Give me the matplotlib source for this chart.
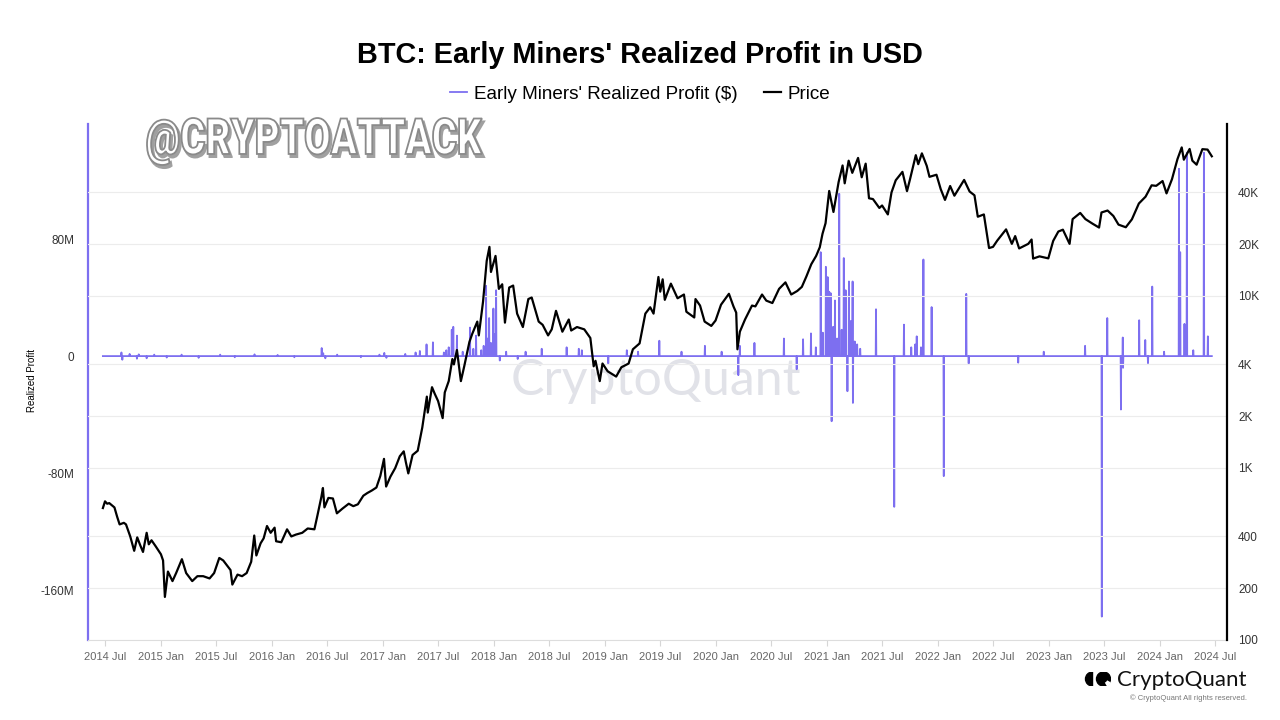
import matplotlib
matplotlib.use("Agg")
import matplotlib.pyplot as plt
from matplotlib.textpath import TextPath
from matplotlib.patches import PathPatch, Wedge, Circle
from matplotlib.font_manager import FontProperties
from matplotlib.transforms import Affine2D
import numpy as np
import pandas as pd

W, H = 1280, 720
PURPLE = "#7d6ff0"

# BTC price (USD)
price_dates = [
    "2014-06-24", "2014-07-01", "2014-07-08", "2014-07-15", "2014-08-01", "2014-08-10", "2014-08-18",
    "2014-09-01", "2014-09-08", "2014-09-22", "2014-10-05", "2014-10-15", "2014-10-25", "2014-11-03",
    "2014-11-15", "2014-11-22", "2014-12-01", "2014-12-15", "2015-01-01", "2015-01-08", "2015-01-14",
    "2015-01-24", "2015-02-08", "2015-02-20", "2015-03-11", "2015-03-25", "2015-04-14", "2015-05-01",
    "2015-05-20", "2015-06-10", "2015-06-25", "2015-07-12", "2015-07-25", "2015-08-18", "2015-08-24",
    "2015-09-10", "2015-09-25", "2015-10-10", "2015-10-25", "2015-11-04", "2015-11-11", "2015-11-25",
    "2015-12-05", "2015-12-16", "2015-12-28", "2016-01-10", "2016-01-15", "2016-02-01", "2016-02-20",
    "2016-03-05", "2016-03-20", "2016-04-10", "2016-04-28", "2016-05-20", "2016-05-30", "2016-06-12",
    "2016-06-17", "2016-06-22", "2016-07-05", "2016-07-20", "2016-08-02", "2016-08-20", "2016-09-10",
    "2016-09-25", "2016-10-10", "2016-10-28", "2016-11-10", "2016-11-25", "2016-12-10", "2016-12-23",
    "2017-01-04", "2017-01-11", "2017-01-25", "2017-02-10", "2017-02-25", "2017-03-10", "2017-03-17",
    "2017-03-25", "2017-04-08", "2017-04-25", "2017-05-10", "2017-05-25", "2017-05-28", "2017-06-11",
    "2017-06-20", "2017-07-01", "2017-07-16", "2017-07-23", "2017-08-05", "2017-08-17", "2017-08-22",
    "2017-09-01", "2017-09-14", "2017-09-25", "2017-10-12", "2017-10-21", "2017-11-07", "2017-11-12",
    "2017-11-26", "2017-12-08", "2017-12-17", "2017-12-22", "2018-01-06", "2018-01-17", "2018-01-28",
    "2018-02-06", "2018-02-20", "2018-03-05", "2018-03-18", "2018-04-06", "2018-04-24", "2018-05-05",
    "2018-05-28", "2018-06-10", "2018-06-28", "2018-07-10", "2018-07-24", "2018-08-14", "2018-09-04",
    "2018-09-12", "2018-10-01", "2018-10-25", "2018-11-14", "2018-11-25", "2018-12-01", "2018-12-15",
    "2018-12-24", "2019-01-10", "2019-02-07", "2019-02-24", "2019-03-20", "2019-04-03", "2019-04-25",
    "2019-05-14", "2019-05-30", "2019-06-10", "2019-06-26", "2019-07-02", "2019-07-10", "2019-07-17",
    "2019-08-06", "2019-08-28", "2019-09-18", "2019-09-26", "2019-10-22", "2019-10-26", "2019-11-10",
    "2019-11-25", "2019-12-17", "2019-12-31", "2020-01-18", "2020-02-13", "2020-02-28", "2020-03-08",
    "2020-03-12", "2020-03-20", "2020-04-06", "2020-04-29", "2020-05-10", "2020-06-01", "2020-06-15",
    "2020-07-05", "2020-07-27", "2020-08-17", "2020-09-05", "2020-09-25", "2020-10-10", "2020-10-25",
    "2020-11-10", "2020-11-26", "2020-12-08", "2020-12-17", "2020-12-27", "2021-01-08", "2021-01-22",
    "2021-02-08", "2021-02-21", "2021-02-28", "2021-03-13", "2021-03-25", "2021-04-13", "2021-04-25",
    "2021-05-08", "2021-05-19", "2021-06-01", "2021-06-22", "2021-07-01", "2021-07-20", "2021-08-01",
    "2021-08-15", "2021-09-06", "2021-09-21", "2021-10-01", "2021-10-20", "2021-10-28", "2021-11-09",
    "2021-11-25", "2021-12-04", "2021-12-27", "2022-01-10", "2022-01-24", "2022-02-10", "2022-02-24",
    "2022-03-28", "2022-04-15", "2022-05-01", "2022-05-12", "2022-06-01", "2022-06-18", "2022-07-01",
    "2022-07-15", "2022-08-13", "2022-09-01", "2022-09-12", "2022-09-25", "2022-10-25", "2022-11-05",
    "2022-11-10", "2022-12-01", "2022-12-30", "2023-01-15", "2023-02-01", "2023-02-16", "2023-03-10",
    "2023-03-20", "2023-04-14", "2023-05-01", "2023-05-25", "2023-06-15", "2023-06-23", "2023-07-13",
    "2023-08-01", "2023-08-18", "2023-09-11", "2023-10-01", "2023-10-24", "2023-11-15", "2023-12-05",
    "2023-12-20", "2024-01-10", "2024-01-23", "2024-02-10", "2024-02-28", "2024-03-13", "2024-03-20",
    "2024-04-08", "2024-04-17", "2024-05-01", "2024-05-20", "2024-06-06", "2024-06-20",
]
price_values = [
    585, 640, 620, 625, 590, 520, 470,
    480, 470, 400, 330, 395, 355, 325,
    420, 360, 380, 350, 315, 290, 178,
    250, 220, 245, 295, 245, 220, 235,
    235, 228, 245, 300, 290, 255, 210,
    240, 235, 245, 285, 405, 310, 365,
    390, 460, 420, 450, 375, 370, 440,
    400, 410, 420, 445, 440, 530, 680,
    765, 590, 670, 665, 545, 580, 620,
    600, 615, 690, 715, 740, 770, 900,
    1130, 780, 890, 1000, 1170, 1250, 1080,
    930, 1190, 1260, 1720, 2600, 2100, 2950,
    2700, 2450, 1950, 2750, 3200, 4300, 4000,
    4850, 3200, 3900, 5400, 6000, 7100, 5900,
    9300, 16000, 19300, 13800, 17100, 11000, 11700,
    7000, 11200, 11500, 7900, 6600, 9600, 9800,
    7100, 6800, 5900, 6400, 8200, 6200, 7300,
    6300, 6600, 6400, 5700, 3900, 4200, 3200,
    4050, 3650, 3400, 3850, 4050, 4900, 5300,
    7900, 8600, 7900, 12900, 10600, 12500, 9500,
    11800, 9700, 10200, 8100, 7500, 9600, 8800,
    7100, 6700, 7200, 8900, 10300, 8700, 8000,
    4900, 6200, 7300, 8800, 8700, 10200, 9400,
    9100, 11000, 12000, 10200, 10700, 11300, 13000,
    15300, 17100, 19200, 23000, 26500, 40800, 30800,
    46000, 57400, 45200, 61200, 52000, 63500, 49000,
    58800, 37000, 36600, 32500, 33600, 29800, 40000,
    47100, 52700, 40700, 47800, 65900, 58400, 67500,
    57100, 49300, 50700, 41800, 36200, 43600, 38300,
    47300, 40500, 38500, 28900, 29800, 19000, 19300,
    21000, 24400, 20100, 22300, 18900, 20100, 21300,
    16500, 17000, 16550, 20900, 23700, 24300, 20100,
    28000, 30400, 28000, 26300, 25000, 30600, 31400,
    29200, 26000, 25100, 27900, 34500, 37800, 44000,
    43700, 46600, 39500, 47800, 62500, 73100, 62000,
    71600, 61200, 58000, 71400, 71000, 64900,
]

# Early miners' realized profit, daily; days not listed are ~0 (values in $M)
profit_start, profit_end = "2014-06-24", "2024-06-20"
spike_dates = [
    "2014-08-24", "2014-08-27", "2014-09-20", "2014-10-14", "2014-10-20", "2014-11-15", "2014-12-10",
    "2015-01-20", "2015-03-10", "2015-05-05", "2015-07-15", "2015-09-01", "2015-11-05", "2016-01-20",
    "2016-03-15", "2016-06-13", "2016-06-18", "2016-06-25", "2016-08-03", "2016-10-20", "2016-12-20",
    "2017-01-05", "2017-01-12", "2017-03-15", "2017-04-18", "2017-05-02", "2017-05-24", "2017-06-14",
    "2017-07-20", "2017-07-28", "2017-08-05", "2017-08-15", "2017-08-20", "2017-09-01", "2017-09-20",
    "2017-10-14", "2017-10-25", "2017-11-03", "2017-11-20", "2017-11-28", "2017-12-06", "2017-12-10",
    "2017-12-16", "2017-12-22", "2017-12-30", "2018-01-03", "2018-01-08", "2018-01-20", "2018-02-10",
    "2018-03-20", "2018-04-15", "2018-06-07", "2018-08-28", "2018-10-07", "2018-10-17", "2019-01-12",
    "2019-03-14", "2019-04-20", "2019-06-29", "2019-09-10", "2019-11-26", "2020-01-20", "2020-03-15",
    "2020-03-20", "2020-05-07", "2020-08-12", "2020-09-23", "2020-10-14", "2020-11-09", "2020-11-25",
    "2020-12-11", "2020-12-18", "2020-12-28", "2021-01-03", "2021-01-08", "2021-01-13", "2021-01-16",
    "2021-01-21", "2021-01-27", "2021-02-03", "2021-02-10", "2021-02-18", "2021-02-25", "2021-03-03",
    "2021-03-09", "2021-03-14", "2021-03-20", "2021-03-26", "2021-03-27", "2021-04-02", "2021-04-10",
    "2021-04-20", "2021-06-11", "2021-08-10", "2021-09-11", "2021-10-05", "2021-10-18", "2021-10-23",
    "2021-11-06", "2021-11-14", "2021-12-11", "2022-01-20", "2022-04-04", "2022-04-12", "2022-09-22",
    "2022-12-15", "2023-04-30", "2023-06-24", "2023-07-12", "2023-08-26", "2023-09-01", "2023-09-02",
    "2023-10-25", "2023-11-14", "2023-11-23", "2023-12-07", "2024-01-15", "2024-03-04", "2024-03-08",
    "2024-03-22", "2024-03-30", "2024-04-20", "2024-05-25", "2024-06-07",
]
spike_values = [
    2.5, -2.5, 1.5, -1.8, 1.2, -1.5, 1.0,
    -1.0, 1.0, -1.2, 1.0, -0.8, 1.2, 0.8,
    -0.8, 5.5, 2.0, -1.5, 1.0, -0.8, 1.0,
    2.2, -1.2, 1.5, 2.5, 3.5, 8.0, 9.4,
    2.5, 4.0, 6.0, 18.0, 20.0, 14.0, 3.0,
    19.5, 5.0, 14.0, 4.0, 7.0, 48.0, 12.0,
    26.0, 9.0, 32.5, 15.0, 45.0, -3.0, 3.0,
    -2.0, 3.0, 5.0, 6.0, 5.0, 4.0, -5.0,
    4.0, 3.0, 10.5, 3.0, 7.0, 3.0, -13.0,
    7.0, 9.0, 12.0, -9.0, 11.5, 15.5, 6.0,
    71.0, 16.0, 61.0, 54.0, 44.0, 43.0, -44.5,
    20.0, 38.0, 12.0, 111.0, 18.0, 67.0, 45.0,
    -24.0, 51.0, 24.0, 51.0, -32.0, 10.0, 8.0,
    5.0, 32.0, -103.0, 21.5, 6.0, 8.0, 13.5,
    6.0, 66.0, 33.5, -82.0, 42.5, -5.0, -4.5,
    3.0, 7.0, -178.0, 26.0, -36.5, 12.7, -8.0,
    24.5, 11.0, -4.8, 47.5, 3.0, 128.0, 71.0,
    22.0, 139.0, 4.0, 139.0, 13.5,
]

# axis tick values
profit_ticks = [80e6, 0, -80e6, -160e6]
profit_ticklabels = ["80M", "0", "-80M", "-160M"]
price_ticks = [100, 200, 400, 1000, 2000, 4000, 10000, 20000, 40000]
price_ticklabels = ["100", "200", "400", "1K", "2K", "4K", "10K", "20K", "40K"]

days = pd.date_range(profit_start, profit_end, freq="D")
profit = pd.Series(0.0, index=days)
profit.loc[pd.to_datetime(spike_dates)] = np.array(spike_values) * 1e6
price = pd.Series(price_values, index=pd.to_datetime(price_dates))

plt.rcParams["font.family"] = ["Liberation Sans", "DejaVu Sans"]
fig = plt.figure(figsize=(12.8, 7.2), dpi=100)
fig.patch.set_facecolor("white")
ax = fig.add_axes([88 / W, 1 - 640 / H, (1227 - 88) / W, (640 - 124) / H])
ax2 = ax.twinx()

# background watermark
ax.text(656 / W, 1 - 381 / H, "CryptoQuant", transform=fig.transFigure, ha="center", va="center",
        fontsize=36, color="#e1e2e8", family=["Lato", "DejaVu Sans"], zorder=0)

l1, = ax.plot(profit.index, profit.values, color=PURPLE, lw=1.3, zorder=2)
l2, = ax2.plot(price.index, price.values, color="black", lw=1.6)

ax.set_xlim(pd.Timestamp("2014-05-06"), pd.Timestamp("2024-08-09"))
ax.set_ylim(-194e6, 158.6e6)
ax2.set_yscale("log")
ax2.set_ylim(100, 100000)

ax.set_yticks(profit_ticks)
ax.set_yticklabels(profit_ticklabels)
ax.tick_params(axis="y", length=0, pad=10, labelsize=8.5, labelcolor="#333333")
ax2.set_yticks(price_ticks)
ax2.set_yticklabels(price_ticklabels)
ax2.yaxis.set_minor_locator(matplotlib.ticker.NullLocator())
ax2.tick_params(axis="y", length=0, pad=8, labelsize=8.5, labelcolor="#333333")
ax2.grid(True, axis="y", color="#ececec", lw=0.8)

xticks = pd.date_range("2014-07-01", "2024-07-01", freq="6MS")
ax.set_xticks(xticks)
ax.set_xticklabels([d.strftime("%Y %b") for d in xticks])
ax.tick_params(axis="x", length=4, color="#d6d6d6", labelsize=8, labelcolor="#666666", pad=4.5)

for s in ["top", "right"]:
    ax.spines[s].set_visible(False)
ax.spines["left"].set_color(PURPLE)
ax.spines["left"].set_linewidth(1.6)
ax.spines["bottom"].set_color("#dddddd")
for s in ["top", "left", "bottom"]:
    ax2.spines[s].set_visible(False)
ax2.spines["right"].set_color("black")
ax2.spines["right"].set_linewidth(1.6)

fig.text(32 / W, 1 - 380 / H, "Realized Profit", rotation=90, ha="center", va="center", fontsize=7)
fig.text(640 / W, 1 - 55 / H, "BTC: Early Miners' Realized Profit in USD", ha="center", va="center",
         fontsize=20.8, weight="bold")
fig.legend([l1, l2], ["Early Miners' Realized Profit ($)", "Price"], loc="center",
           bbox_to_anchor=(640 / W, 1 - 94 / H), ncol=2, frameon=False, fontsize=13.6,
           handlelength=0.9, handletextpad=0.35, columnspacing=1.4)


# overlay handle "@CRYPTOATTACK": outlined text squeezed into its box
def outlined_text(s, x0, y0, x1, y1):
    fp = FontProperties(family=["Roboto", "DejaVu Sans"], weight="black")
    tp = TextPath((0, 0), s, size=100, prop=fp)
    bb = tp.get_extents()
    sx = (x1 - x0) / bb.width
    sy = (y1 - y0) / bb.height
    to_fig = Affine2D().scale(1 / W, 1 / H) + fig.transFigure
    base = Affine2D().translate(-bb.x0, -bb.y0).scale(sx, sy).translate(x0, H - y1)
    shadow = PathPatch(tp, transform=base + Affine2D().translate(2, -3) + to_fig,
                       facecolor="#a0a0a0", edgecolor="#a0a0a0", lw=1.5)
    front = PathPatch(tp, transform=base + to_fig, facecolor="white", edgecolor="#8a8a8a", lw=1.3)
    fig.add_artist(shadow)
    fig.add_artist(front)


outlined_text("@CRYPTOATTACK", 147, 118, 482, 165)

# CryptoQuant logo bottom right
lax = fig.add_axes([1083 / W, 1 - 686 / H, 28 / W, 14 / H])
lax.set_xlim(0, 28)
lax.set_ylim(0, 14)
lax.set_axis_off()
lax.add_patch(Wedge((9.5, 7), 7, 90, 270, color="black"))
lax.add_patch(Circle((20.5, 7), 7, color="black"))
lax.add_patch(Wedge((20.5, 7), 7.5, 300, 330, width=3.0, color="white"))
fig.text(1117 / W, 1 - 686 / H, "CryptoQuant", ha="left", va="baseline", fontsize=16,
         family=["Lato", "DejaVu Sans"], color="#111111")
fig.text(1247 / W, 1 - 698 / H, "\u00a9 CryptoQuant All rights reserved.", ha="right", va="center",
         fontsize=5.5, color="#777777")

fig.savefig("out.png", dpi=100)
